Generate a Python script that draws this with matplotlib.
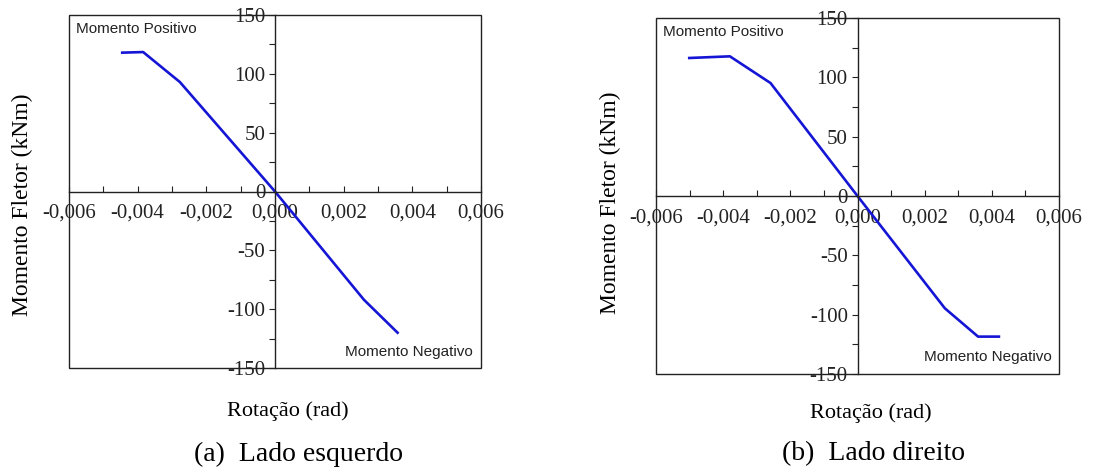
import matplotlib
matplotlib.use('Agg')
import matplotlib.pyplot as plt
from matplotlib.patches import Rectangle
from matplotlib.ticker import FixedLocator, MultipleLocator

plt.rcParams['axes.unicode_minus'] = False

# dados
rot_esq = [-0.00445, -0.00384, -0.00277, 0.0, 0.00259, 0.00357]
mom_esq = [118, 118.5, 93, 0, -92, -120]

rot_dir = [-0.00501, -0.0038, -0.00259, 0.0, 0.0026, 0.00359, 0.00421]
mom_dir = [116.3, 117.7, 95.2, 0, -94.6, -118.5, -118.5]

xticks = [-0.006, -0.004, -0.002, 0.0, 0.002, 0.004, 0.006]
xlabels = ['-0,006', '-0,004', '-0,002', '0,000', '0,002', '0,004', '0,006']
yticks = [-150, -100, -50, 0, 50, 100, 150]
ylabels = ['-150', '-100', '-50', '0', '50', '100', '150']

W, H = 1106, 476
fig = plt.figure(figsize=(W / 100, H / 100), dpi=100)

serif = 'Liberation Serif'
sans = 'Liberation Sans'


def px(x, y):
    return x / W, 1 - y / H


def painel(rect, rot, mom):
    ax = fig.add_axes(rect)
    ax.plot(rot, mom, color='#1515d5', lw=1.9, solid_joinstyle='round')
    ax.set_xlim(-0.006, 0.006)
    ax.set_ylim(-150, 150)

    ax.spines['left'].set_position(('data', 0))
    ax.spines['bottom'].set_position(('data', 0))
    ax.spines['top'].set_visible(False)
    ax.spines['right'].set_visible(False)
    for s in ['left', 'bottom']:
        ax.spines[s].set_linewidth(1.0)
        ax.spines[s].set_color('#222222')
    ax.add_patch(Rectangle((0, 0), 1, 1, transform=ax.transAxes, fill=False,
                           lw=1.0, ec='#222222', clip_on=False))

    ax.xaxis.set_major_locator(FixedLocator(xticks))
    ax.xaxis.set_minor_locator(MultipleLocator(0.001))
    ax.set_xticklabels(xlabels, fontfamily=serif, fontsize=15)
    ax.yaxis.set_major_locator(FixedLocator(yticks))
    ax.yaxis.set_minor_locator(MultipleLocator(25))
    ax.set_yticklabels(ylabels, fontfamily=serif, fontsize=15)

    ax.tick_params(axis='x', which='both', direction='in', length=4,
                   width=0.8, pad=9, colors='#222222')
    ax.tick_params(axis='y', which='both', direction='out', length=4,
                   width=0.8, pad=3, colors='#222222')
    return ax


ax1 = painel([69 / W, 1 - 368 / H, 412 / W, 353 / H], rot_esq, mom_esq)
ax2 = painel([656 / W, 1 - 374 / H, 403 / W, 356 / H], rot_dir, mom_dir)

# anotacoes
fig.text(*px(76, 29), 'Momento Positivo', fontfamily=sans, fontsize=11,
         ha='left', va='center', color='#222222')
fig.text(*px(473, 352), 'Momento Negativo', fontfamily=sans, fontsize=11,
         ha='right', va='center', color='#222222')
fig.text(*px(663, 32), 'Momento Positivo', fontfamily=sans, fontsize=11,
         ha='left', va='center', color='#222222')
fig.text(*px(1052, 357), 'Momento Negativo', fontfamily=sans, fontsize=11,
         ha='right', va='center', color='#222222')

# rotulos dos eixos
fig.text(*px(22, 205), 'Momento Fletor (kNm)', fontfamily=serif, fontsize=17,
         rotation=90, ha='center', va='center')
fig.text(*px(610, 203), 'Momento Fletor (kNm)', fontfamily=serif, fontsize=17,
         rotation=90, ha='center', va='center')
fig.text(*px(288, 411), 'Rotação (rad)', fontfamily=serif, fontsize=16,
         ha='center', va='center')
fig.text(*px(871, 413), 'Rotação (rad)', fontfamily=serif, fontsize=16,
         ha='center', va='center')

# legendas
fig.text(*px(298, 454), '(a)  Lado esquerdo', fontfamily=serif, fontsize=20,
         ha='center', va='center')
fig.text(*px(873, 454), '(b)  Lado direito', fontfamily=serif, fontsize=20,
         ha='center', va='center')

fig.savefig('out.png', dpi=100)
